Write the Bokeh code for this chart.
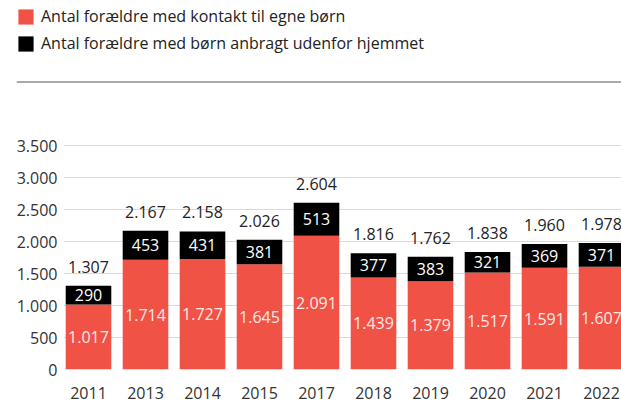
from bokeh.plotting import figure
from bokeh.models import (ColumnDataSource, Range1d, FixedTicker, LabelSet, Span,
                          Legend, LegendItem)
from bokeh.core.properties import value
from bokeh.layouts import column, row
from bokeh.embed import file_html
from bokeh.resources import INLINE

years = ["2011", "2013", "2014", "2015", "2017", "2018", "2019", "2020", "2021", "2022"]
contact = [1017, 1714, 1727, 1645, 2091, 1439, 1379, 1517, 1591, 1607]
placed = [290, 453, 431, 381, 513, 377, 383, 321, 369, 371]
y_ticks = [0, 500, 1000, 1500, 2000, 2500, 3000, 3500]
series_names = ["Antal forældre med kontakt til egne børn",
                "Antal forældre med børn anbragt udenfor hjemmet"]

RED = "#F05246"
BLACK = "#000000"
FONT = "Open Sans"


def dk(n):
    return f"{n:,}".replace(",", ".")


totals = [a + b for a, b in zip(contact, placed)]
xs = list(range(len(years)))

src = ColumnDataSource(dict(
    x=xs,
    contact=contact,
    placed=placed,
    total=totals,
    mid_c=[c / 2 for c in contact],
    mid_p=[c + p / 2 for c, p in zip(contact, placed)],
    lab_c=[dk(v) for v in contact],
    lab_p=[dk(v) for v in placed],
    lab_t=[dk(v) for v in totals],
))

# ---------- top: legend + rule ----------
top = figure(width=621, height=86, output_backend="svg", toolbar_location=None,
             x_range=Range1d(0, 1), y_range=Range1d(0, 1),
             x_axis_location=None, y_axis_location=None,
             min_border=0, min_border_left=16, min_border_top=5, min_border_bottom=4)
top.grid.visible = False
top.outline_line_color = None
r1 = top.vbar(x=[0], top=[0], width=0, fill_color=RED, line_color=None)
r2 = top.vbar(x=[0], top=[0], width=0, fill_color=BLACK, line_color=None)
leg = Legend(items=[LegendItem(label=series_names[0], renderers=[r1]),
                    LegendItem(label=series_names[1], renderers=[r2])],
             location="top_left", orientation="vertical",
             margin=0, padding=0, spacing=5,
             glyph_width=19, glyph_height=19, label_standoff=6,
             label_text_font=FONT, label_text_font_size="16px",
             label_text_color="#222222",
             border_line_color=None, background_fill_alpha=0)
top.add_layout(leg)
top.add_layout(Span(location=0, dimension="width", line_color="#555555", line_width=2))

# ---------- bottom: chart ----------
p = figure(width=621, height=317, output_backend="svg", toolbar_location=None,
           x_range=Range1d(-0.4386, 9.351), y_range=Range1d(0, 4266),
           min_border=0, min_border_left=63, min_border_top=10, min_border_bottom=34,
           min_border_right=0)
p.outline_line_color = None
p.xgrid.visible = False
p.ygrid.grid_line_color = "#d9d9d9"
p.ygrid.grid_line_width = 1

p.vbar_stack(["contact", "placed"], x="x", width=0.8, color=[RED, BLACK], source=src,
             line_color=None)

p.yaxis.ticker = FixedTicker(ticks=y_ticks)
p.yaxis.major_label_overrides = {v: dk(v) for v in y_ticks}
p.xaxis.ticker = FixedTicker(ticks=xs)
p.xaxis.major_label_overrides = {i: y for i, y in zip(xs, years)}
for ax in (p.xaxis, p.yaxis):
    ax.axis_line_color = None
    ax.major_tick_line_color = None
    ax.minor_tick_line_color = None
    ax.major_tick_out = 0
    ax.major_tick_in = 0
    ax.major_label_text_font = FONT
    ax.major_label_text_font_size = "16px"
    ax.major_label_text_color = "#333333"
p.yaxis.major_label_standoff = 6
p.xaxis.major_label_standoff = 17

common = dict(x="x", source=src, text_align="center", text_baseline="middle",
              text_font=value(FONT), text_font_size=value("16px"))
p.add_layout(LabelSet(y="mid_c", text="lab_c", text_color="#fde9e7", **common))
p.add_layout(LabelSet(y="mid_p", text="lab_p", text_color="#ffffff", **common))
p.add_layout(LabelSet(y="total", text="lab_t", text_color="#222222", y_offset=19, **common))

layout = column(row(top), row(p), spacing=0)
open("out.html", "w").write(file_html(layout, INLINE))
